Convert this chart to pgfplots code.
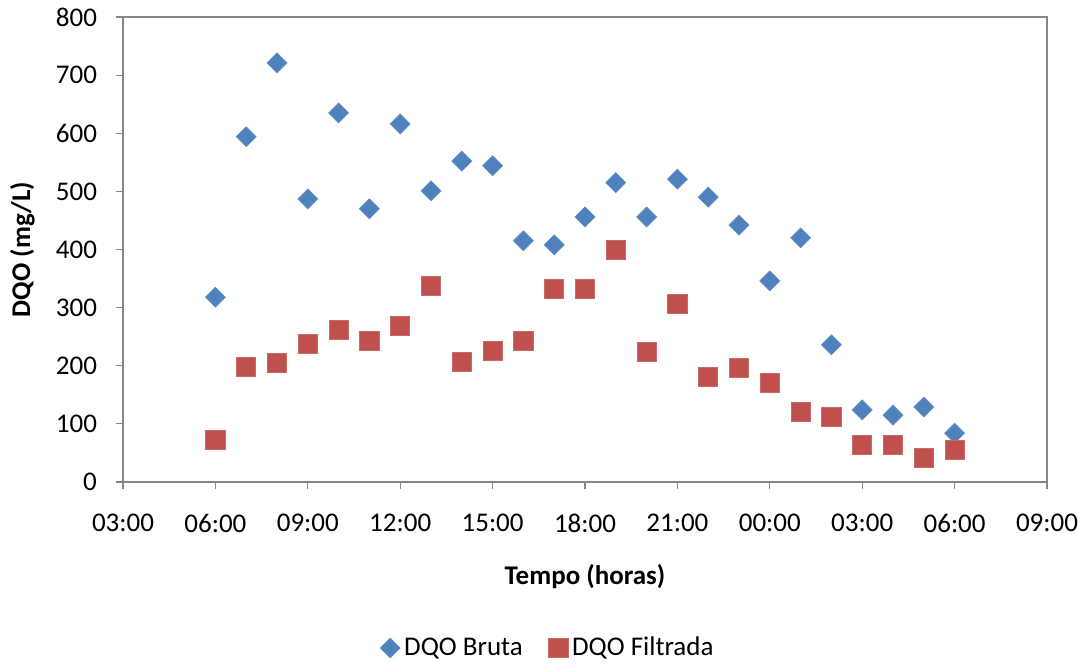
\documentclass[border=0pt]{standalone}
\usepackage{pgfplots}
\pgfplotsset{compat=1.18}
\usepackage{fontspec}
\setmainfont{Carlito}
\definecolor{blu}{HTML}{4F81BD}
\definecolor{red}{HTML}{C0504D}
\definecolor{axg}{HTML}{868686}
\begin{document}
\begin{tikzpicture}
\begin{axis}[
  scale only axis,
  width=462pt, height=232.5pt,
  xmin=3, xmax=33, ymin=0, ymax=800,
  xtick={3,6,...,33},
  xticklabels={03:00,06:00,09:00,12:00,15:00,18:00,21:00,00:00,03:00,06:00,09:00},
  ytick={0,100,...,800},
  tick align=outside,
  major tick length=3.5pt,
  tick style={axg, line width=0.6pt},
  axis line style={axg, line width=0.6pt},
  xtick pos=bottom, ytick pos=left,
  font=\fontsize{13.5}{16}\selectfont,
  xticklabel style={yshift=-9pt},
  yticklabel style={xshift=-6pt},
  /pgf/number format/assume math mode=true,
  every axis y label/.style={at={(axis description cs:-0.109,0.5)}, rotate=90, anchor=center},
  every axis x label/.style={at={(axis description cs:0.5,-0.204)}, anchor=center},
  xlabel={\textbf{Tempo (horas)}},
  ylabel={\textbf{DQO (mg/L)}},
  legend style={draw=none, at={(0.461,-0.357)}, anchor=center, legend columns=2,
    /tikz/every even column/.append style={column sep=11pt}, font=\fontsize{13.5}{16}\selectfont},
  legend image code/.code={\draw[#1] plot coordinates {(0cm,0cm)};},
  clip=false,
]
\addplot[only marks, mark=square*, mark size=3.5pt, mark options={rotate=45, fill=blu, draw=blu!90!white}] coordinates {
(6,318) (7,594) (8,721) (9,487) (10,635) (11,470) (12,616) (13,501) (14,552) (15,544)
(16,415) (17,408) (18,456) (19,515) (20,456) (21,521) (22,490) (23,442) (24,346) (25,420)
(26,236) (27,124) (28,115) (29,129) (30,84)
};
\addlegendentry{DQO Bruta}
\addplot[only marks, mark=square*, mark size=4.8pt, mark options={fill=red, draw=red!85!white}] coordinates {
(6,72) (7,198) (8,205) (9,238) (10,262) (11,243) (12,268) (13,337) (14,207) (15,225)
(16,243) (17,332) (18,332) (19,399) (20,224) (21,306) (22,181) (23,196) (24,170) (25,120)
(26,112) (27,64) (28,64) (29,41) (30,55)
};
\addlegendentry{DQO Filtrada}
\end{axis}
\pgfresetboundingbox
\path ([xshift=-61.5pt,yshift=-91pt]current axis.south west) rectangle ([xshift=18.5pt,yshift=8.5pt]current axis.north east);
\end{tikzpicture}
\end{document}
